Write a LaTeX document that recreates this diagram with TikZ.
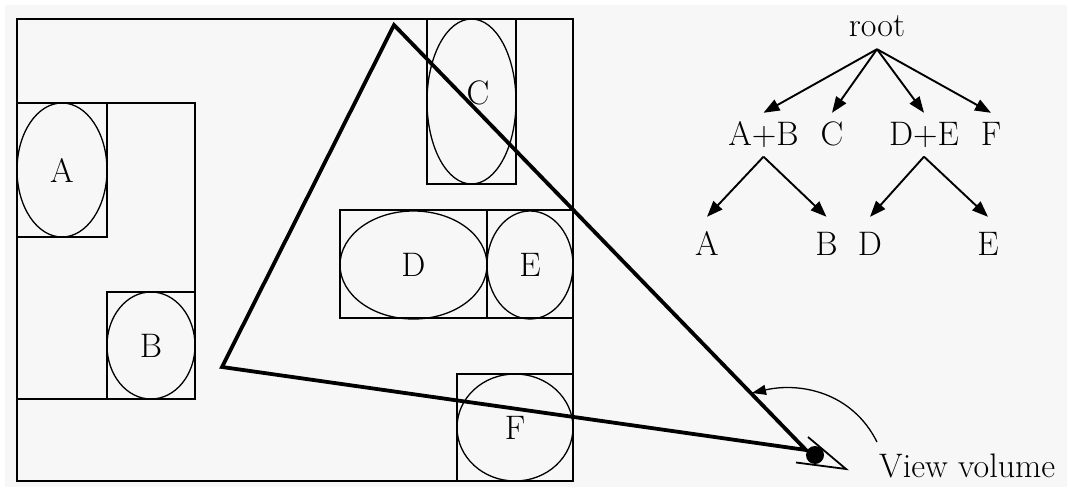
\documentclass[tikz,border=0pt]{standalone}
\usetikzlibrary{shapes.geometric,arrows.meta}
\definecolor{bgc}{HTML}{F7F7F7}
\begin{document}
\begin{tikzpicture}[x=1pt,y=-1pt,
  lbl/.style={font=\fontsize{34}{40}\selectfont},
  box/.style={draw, line width=1.3pt},
  obj/.style={ellipse, draw, line width=1.3pt, inner sep=0pt, lbl},
  tri/.style={line width=3.8pt, line join=miter},
  arr/.style={line width=1.9pt, -{Triangle[length=16pt,width=12pt]}},
  tnode/.style={lbl, inner xsep=0pt, inner ysep=10.5pt, text height=22.5pt, text depth=0pt, anchor=base},
  rootnode/.style={tnode, inner ysep=12pt},
  leaf/.style={tnode, inner ysep=15.5pt},
  eyeline/.style={line width=1.8pt},
]
\useasboundingbox (0,0) rectangle (1070,489);
\fill[white] (0,0) rectangle (1070,489);
\fill[bgc] (5,5) rectangle (1067,487);

% scene rectangles
\draw[box] (17,19) rectangle (573,481);
\draw[box] (17,103) rectangle (195,399);
\draw[box] (17,103) rectangle (107,237);
\draw[box] (107,292) rectangle (195,399);
\draw[box] (427,19) rectangle (516,184);
\draw[box] (340,210) rectangle (573,318);
\draw[box] (487,210) -- (487,318);
\draw[box] (457,374) rectangle (573,481);

% objects
\node[obj, minimum width=90pt, minimum height=134pt] (A) at (62,170) {A};
\node[obj, minimum width=88pt, minimum height=107pt] (B) at (151,345.5) {B};
\node[obj, minimum width=89pt, minimum height=165pt] (C) at (471.5,101.5) {};
\node[lbl, inner sep=0pt] (Clabel) at (478,93) {C};
\node[obj, minimum width=147pt, minimum height=108pt] (D) at (413.5,265) {D};
\node[obj, minimum width=86pt, minimum height=108pt] (E) at (530,265) {E};
\node[obj, minimum width=116pt, minimum height=107pt] (F) at (515,427.5) {F};

% view volume triangle
\coordinate (ttop) at (394,25);
\coordinate (tleft) at (222,367);
\coordinate (teye) at (806,450);
\draw[tri] (ttop) -- (teye) -- (tleft) -- cycle;

% eye
\node[circle, fill, minimum size=18pt, inner sep=0pt] (eye) at (815,455) {};
\draw[eyeline] (808,437) -- (846,469) -- (796,462.5);

% label arrow
\coordinate (vvtail) at (877,442);
\coordinate (vvtip) at (752,393);
\draw[line width=1.3pt, -{Triangle[length=14pt,width=10pt]}] (vvtail) .. controls (852,392) and (800,382) .. (vvtip);
\node[lbl, anchor=base west, inner sep=0pt] (vv) at (879,477) {View volume};

% tree
\node[rootnode] (root) at (877,37) {root};
\node[tnode] (ab) at (763.5,146) {A+B};
\node[tnode] (c) at (832,146) {C};
\node[tnode] (de) at (924,146) {D+E};
\node[tnode] (f) at (991,146) {F};
\node[leaf] (a) at (707,255) {A};
\node[leaf] (b) at (826.5,255) {B};
\node[leaf] (d) at (870,255) {D};
\node[leaf] (e) at (988,255) {E};

\draw[arr] (root.south) -- (ab.north);
\draw[arr] (root.south) -- (c.north);
\draw[arr] (root.south) -- (de.north);
\draw[arr] (root.south) -- (f.north);
\draw[arr] (ab.south) -- (a.north);
\draw[arr] (ab.south) -- (b.north);
\draw[arr] (de.south) -- (d.north);
\draw[arr] (de.south) -- (e.north);
\end{tikzpicture}
\end{document}
